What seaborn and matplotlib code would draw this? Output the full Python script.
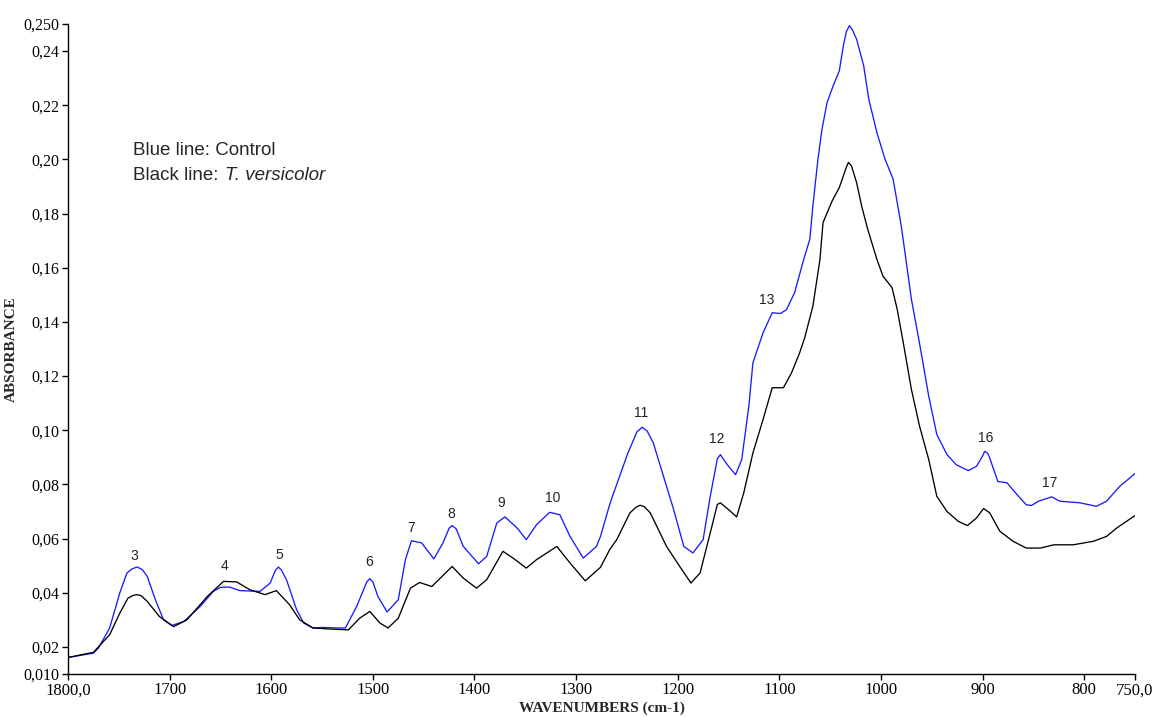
import matplotlib
matplotlib.use("Agg")
import matplotlib.pyplot as plt
import seaborn as sns
import pandas as pd

# ---- data ----
blue_wn = [1800, 1775, 1770, 1759, 1749, 1742, 1737, 1732, 1727, 1722, 1714, 1706,
           1698, 1686, 1670, 1657, 1650, 1641, 1631, 1611, 1601, 1596, 1593, 1590,
           1585, 1575, 1568, 1559, 1549, 1536, 1527, 1516, 1506, 1503, 1500, 1495,
           1486, 1475, 1468, 1462, 1452, 1440, 1431, 1425, 1422, 1418, 1411, 1396,
           1388, 1378, 1370, 1358, 1349, 1339, 1326, 1316, 1306, 1293, 1280, 1276,
           1267, 1263, 1249, 1240, 1235, 1230, 1224, 1214, 1204, 1194, 1185, 1175,
           1168, 1161, 1158, 1155, 1150, 1143, 1137, 1130, 1126, 1116, 1107, 1099,
           1093, 1085, 1076, 1070, 1067, 1062, 1058, 1053, 1047, 1041, 1037, 1034,
           1031, 1028, 1024, 1017, 1012, 1004, 996, 988, 980, 970, 962, 953, 945,
           935, 926, 914, 906, 900, 898, 895, 893, 885, 876, 866, 857, 852, 845,
           832, 824, 804, 788, 778, 765, 750]
blue_abs = [0.0161, 0.0177, 0.0196, 0.0270, 0.0400, 0.0473, 0.0488, 0.0495, 0.0486,
            0.0460, 0.0374, 0.0300, 0.0279, 0.0294, 0.0349, 0.0405, 0.0420, 0.0421,
            0.0408, 0.0405, 0.0436, 0.0482, 0.0495, 0.0484, 0.0448, 0.0337, 0.0288,
            0.0270, 0.0272, 0.0270, 0.0270, 0.0349, 0.0440, 0.0452, 0.0440, 0.0386,
            0.0329, 0.0374, 0.0522, 0.0592, 0.0584, 0.0525, 0.0584, 0.0638, 0.0648,
            0.0636, 0.0571, 0.0507, 0.0534, 0.0658, 0.0680, 0.0639, 0.0596, 0.0651,
            0.0697, 0.0688, 0.0608, 0.0528, 0.0571, 0.0608, 0.0725, 0.0769, 0.0916,
            0.0995, 0.1011, 0.0997, 0.0953, 0.0830, 0.0707, 0.0571, 0.0547, 0.0596,
            0.0756, 0.0895, 0.0910, 0.0893, 0.0867, 0.0836, 0.0892, 0.1089, 0.1249,
            0.1360, 0.1434, 0.1431, 0.1445, 0.1508, 0.1631, 0.1705, 0.1828, 0.2001,
            0.2112, 0.2210, 0.2272, 0.2327, 0.2420, 0.2472, 0.2494, 0.2478, 0.2444,
            0.2346, 0.2223, 0.2099, 0.2001, 0.1927, 0.1754, 0.1483, 0.1320, 0.1126,
            0.0984, 0.0910, 0.0873, 0.0851, 0.0867, 0.0905, 0.0922, 0.0915, 0.0898,
            0.0811, 0.0806, 0.0762, 0.0725, 0.0722, 0.0738, 0.0754, 0.0738, 0.0732,
            0.0719, 0.0738, 0.0793, 0.0840]

black_wn = [1800, 1775, 1759, 1749, 1741, 1736, 1732, 1728, 1722, 1710, 1696, 1683,
            1663, 1647, 1634, 1621, 1606, 1595, 1582, 1572, 1559, 1542, 1524, 1513,
            1503, 1493, 1485, 1475, 1463, 1454, 1442, 1432, 1422, 1411, 1398, 1388,
            1372, 1362, 1349, 1339, 1319, 1306, 1291, 1276, 1267, 1260, 1247, 1241,
            1237, 1233, 1227, 1211, 1198, 1187, 1178, 1168, 1161, 1158, 1150, 1142,
            1135, 1126, 1116, 1107, 1096, 1088, 1080, 1075, 1067, 1060, 1057, 1048,
            1041, 1037, 1034, 1032, 1029, 1024, 1019, 1013, 1004, 998, 989, 984, 978,
            970, 962, 953, 945, 935, 924, 915, 906, 899, 893, 883, 870, 857, 843,
            830, 811, 791, 778, 768, 750]
black_abs = [0.0161, 0.0180, 0.0245, 0.0325, 0.0380, 0.0390, 0.0393, 0.0389, 0.0368,
             0.0312, 0.0275, 0.0300, 0.0386, 0.0442, 0.0440, 0.0411, 0.0393, 0.0408,
             0.0356, 0.0300, 0.0270, 0.0266, 0.0263, 0.0306, 0.0331, 0.0288, 0.0270,
             0.0306, 0.0417, 0.0438, 0.0423, 0.0460, 0.0497, 0.0454, 0.0417, 0.0448,
             0.0553, 0.0528, 0.0491, 0.0522, 0.0571, 0.0510, 0.0444, 0.0494, 0.0559,
             0.0596, 0.0695, 0.0716, 0.0723, 0.0718, 0.0695, 0.0571, 0.0497, 0.0436,
             0.0473, 0.0621, 0.0726, 0.0732, 0.0707, 0.0680, 0.0769, 0.0916, 0.1040,
             0.1157, 0.1157, 0.1212, 0.1286, 0.1342, 0.1458, 0.1631, 0.1767, 0.1847,
             0.1896, 0.1939, 0.1972, 0.1989, 0.1976, 0.1915, 0.1828, 0.1742, 0.1631,
             0.1569, 0.1526, 0.1446, 0.1323, 0.1150, 0.1015, 0.0892, 0.0756, 0.0700,
             0.0664, 0.0648, 0.0676, 0.0711, 0.0695, 0.0627, 0.0590, 0.0565, 0.0565,
             0.0577, 0.0577, 0.0590, 0.0608, 0.0639, 0.0685]

peak_labels = ["3", "4", "5", "6", "7", "8", "9", "10", "11", "12", "13", "16", "17"]
peak_label_wn = [1735, 1646, 1592, 1504, 1462, 1423, 1374, 1323, 1236, 1162, 1112, 897, 834]
peak_label_abs = [0.0537, 0.0500, 0.0540, 0.0515, 0.0640, 0.0690, 0.0733, 0.0751,
                  0.1065, 0.0966, 0.1480, 0.0970, 0.0807]

x_ticks = [1800, 1700, 1600, 1500, 1400, 1300, 1200, 1100, 1000, 900, 800, 750]
x_ticklabels = ["1800,0", "1700", "1600", "1500", "1400", "1300", "1200", "1100",
                "1000", "900", "800", "750,0"]
y_ticks = [0.010, 0.02, 0.04, 0.06, 0.08, 0.10, 0.12, 0.14, 0.16, 0.18, 0.20, 0.22, 0.24, 0.250]
y_ticklabels = ["0,010", "0,02", "0,04", "0,06", "0,08", "0,10", "0,12", "0,14",
                "0,16", "0,18", "0,20", "0,22", "0,24", "0,250"]

# ---- plot ----
sns.set_style("ticks")
plt.rcParams['font.family'] = ['Liberation Serif', 'DejaVu Serif']

fig = plt.figure(figsize=(11.54, 7.17), dpi=100)
ax = fig.add_axes([68 / 1154, 1 - 674 / 717, (1135 - 68) / 1154, (674 - 24) / 717])

df_blue = pd.DataFrame({"wn": blue_wn, "abs": blue_abs})
df_black = pd.DataFrame({"wn": black_wn, "abs": black_abs})
sns.lineplot(data=df_blue, x="wn", y="abs", color="#1a1aff", lw=0.95, estimator=None, ax=ax)
sns.lineplot(data=df_black, x="wn", y="abs", color="black", lw=0.95, estimator=None, ax=ax)

ax.set_xlim(1800, 750)
ax.set_ylim(0.010, 0.250)
ax.set_xticks(x_ticks)
ax.set_xticklabels(x_ticklabels, fontsize=12)
ax.set_yticks(y_ticks)
ax.set_yticklabels(y_ticklabels, fontsize=11.5)
ax.tick_params(axis="both", direction="out", length=4, width=1, color="black",
               labelcolor="black", pad=2)
for s in ["top", "right"]:
    ax.spines[s].set_visible(False)
for s in ["left", "bottom"]:
    ax.spines[s].set_color("black")
    ax.spines[s].set_linewidth(1.0)

ax.set_xlabel("WAVENUMBERS (cm-1)", fontsize=11, fontweight="bold", labelpad=2)
ax.set_ylabel("ABSORBANCE", fontsize=11, fontweight="bold", labelpad=4)

sans = ["Liberation Sans", "DejaVu Sans"]
for lab, xw, ya in zip(peak_labels, peak_label_wn, peak_label_abs):
    ax.text(xw, ya, lab, ha="center", va="center", fontsize=10,
            family=sans, color="#222222")

ax.text(0.061, 0.805, "Blue line: Control", transform=ax.transAxes, fontsize=13.5,
        family=sans, va="center", ha="left")
t2 = ax.text(0.061, 0.767, "Black line:", transform=ax.transAxes, fontsize=13.5,
             family=sans, va="center", ha="left")
fig.canvas.draw()
bb = t2.get_window_extent(renderer=fig.canvas.get_renderer())
x_end = ax.transAxes.inverted().transform((bb.x1 + 6, bb.y0))[0]
ax.text(x_end, 0.767, "T. versicolor", transform=ax.transAxes, fontsize=13.5,
        family=sans, style="italic", va="center", ha="left")

fig.savefig("out.png", dpi=100)
